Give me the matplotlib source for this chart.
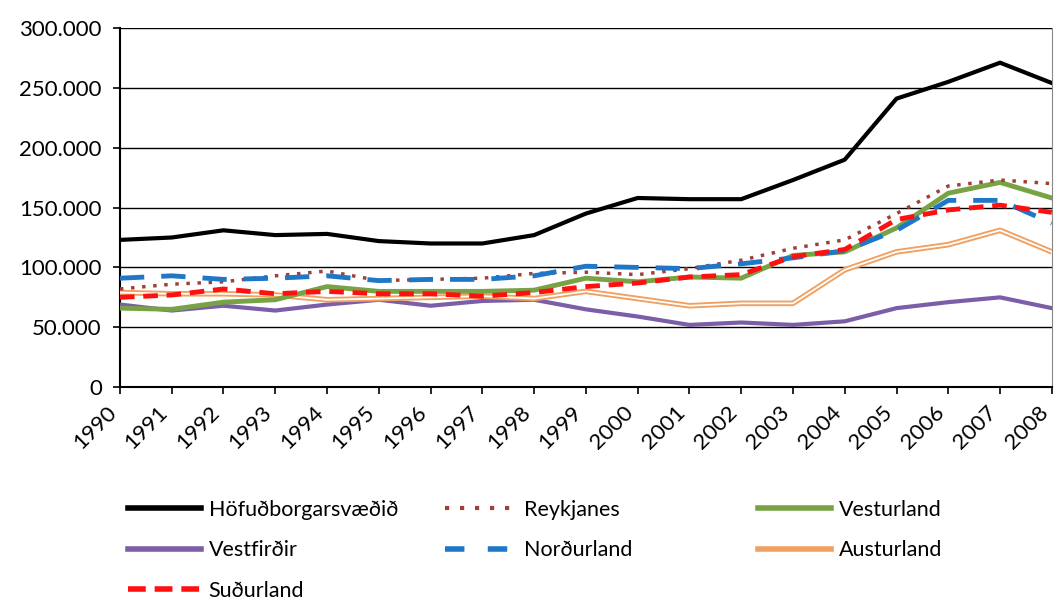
import matplotlib
matplotlib.use('Agg')
from matplotlib import pyplot as plt
from matplotlib.lines import Line2D

plt.rcParams['font.family'] = ['Lato', 'DejaVu Sans']

years = list(range(1990, 2009))

hofudborg = [123000, 125000, 131000, 127000, 128000, 122000, 120000, 120000, 127000, 145000,
             158000, 157000, 157000, 173000, 190000, 241000, 255000, 271000, 254000]
reykjanes = [82000, 86000, 88000, 93000, 97000, 89000, 90000, 91000, 95000, 96000,
             94000, 99000, 106000, 116000, 123000, 145000, 168000, 173000, 170000]
vesturland = [66000, 65000, 71000, 73000, 84000, 80000, 80000, 80000, 81000, 91000,
              88000, 92000, 91000, 110000, 113000, 133000, 162000, 171000, 158000]
vestfirdir = [69000, 64000, 68000, 64000, 69000, 73000, 68000, 72000, 73000, 65000,
              59000, 52000, 54000, 52000, 55000, 66000, 71000, 75000, 66000]
nordurland = [91000, 93000, 90000, 91000, 93000, 89000, 90000, 90000, 93000, 101000,
              100000, 99000, 103000, 108000, 114000, 131000, 156000, 156000, 137000]
austurland = [79000, 78000, 78000, 77000, 73000, 74000, 75000, 76000, 74000, 80000,
              74000, 68000, 70000, 70000, 98000, 113000, 119000, 131000, 113000]
sudurland = [75000, 77000, 82000, 78000, 80000, 78000, 78000, 76000, 79000, 84000,
             87000, 92000, 94000, 109000, 115000, 140000, 148000, 152000, 146000]

yticks = [0, 50000, 100000, 150000, 200000, 250000, 300000]
ylabels = ['0', '50.000', '100.000', '150.000', '200.000', '250.000', '300.000']

# styles
c_hof, c_rey, c_ves, c_vfj = 'black', '#a0403a', '#77a345', '#7b5ea7'
c_nor, c_aus, c_sud = '#1f77c8', '#f0a060', '#ff1010'
ls_rey = (0, (1, 2.2))
ls_nor = (0, (5, 3.5))
ls_sud = (0, (3, 1.8))

fig = plt.figure(figsize=(10.55, 6.04), dpi=100)
ax = fig.add_axes([0.1137, 0.359, 0.8833, 0.5947])

for y in yticks[1:]:
    ax.axhline(y, color='black', lw=1, zorder=1)

ax.plot(years, vestfirdir, color=c_vfj, lw=3, zorder=3)
ax.plot(years, austurland, color=c_aus, lw=4, zorder=3, solid_capstyle='butt')
ax.plot(years, austurland, color='white', lw=1.3, zorder=3)
ax.plot(years, vesturland, color=c_ves, lw=3.5, zorder=4)
ax.plot(years, reykjanes, color=c_rey, lw=2.5, ls=ls_rey, zorder=4)
ax.plot(years, nordurland, color=c_nor, lw=3.5, ls=ls_nor, zorder=5)
ax.plot(years, sudurland, color=c_sud, lw=3.5, ls=ls_sud, zorder=6)
ax.plot(years, hofudborg, color=c_hof, lw=3, zorder=7)

ax.set_xlim(1990, 2008)
ax.set_ylim(0, 300000)
ax.set_xticks(years)
ax.set_xticklabels([str(y) for y in years], rotation=45, ha='right', va='top')
ax.set_yticks(yticks)
ax.set_yticklabels(ylabels)
ax.tick_params(axis='both', labelsize=16, direction='out', length=5, width=1.2)
ax.tick_params(axis='x', pad=6)
ax.tick_params(axis='y', pad=8)
ax.spines['top'].set_visible(False)
ax.spines['right'].set_color('#888888')
ax.spines['left'].set_linewidth(1.5)
ax.spines['bottom'].set_linewidth(1.5)

cols = [
    ([Line2D([], [], color=c_hof, lw=4),
      Line2D([], [], color=c_vfj, lw=4),
      Line2D([], [], color=c_sud, lw=4, ls=(0, (3.2, 1.6)))],
     ['Höfuðborgarsvæðið', 'Vestfirðir', 'Suðurland'], 128, 3.4),
    ([Line2D([], [], color=c_rey, lw=3, ls=(0, (1, 2.6))),
      Line2D([], [], color=c_nor, lw=4, ls=(0, (3.5, 4.2)))],
     ['Reykjanes', 'Norðurland'], 445, 3.3),
    ([Line2D([], [], color=c_ves, lw=4),
      Line2D([], [], color=c_aus, lw=4)],
     ['Vesturland', 'Austurland'], 758, 3.4),
]
for hs, ls, x0, hl in cols:
    fig.legend(hs, ls, loc='upper left', bbox_to_anchor=(x0 / 1055, 1 - 500 / 604),
               frameon=False, fontsize=15.5, handlelength=hl, handletextpad=0.35,
               labelspacing=0.95, borderpad=0, borderaxespad=0)

fig.savefig('out.png', dpi=100)
